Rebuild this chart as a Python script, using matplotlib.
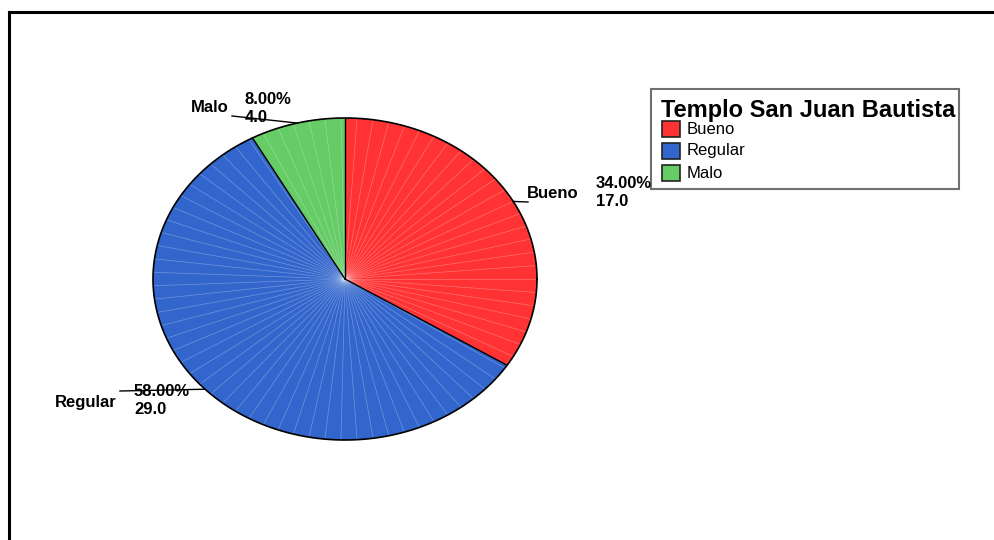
import numpy as np
import matplotlib.pyplot as plt
from matplotlib.patches import Rectangle
from matplotlib.lines import Line2D

categories = ['Bueno', 'Regular', 'Malo']
counts = [17.0, 29.0, 4.0]
percents = [34.00, 58.00, 8.00]
colors = ['#FF3333', '#3366CC', '#66CC66']
legend_title = 'Templo San Juan Bautista'

W, H = 995, 540
fig = plt.figure(figsize=(W / 100, H / 100), dpi=100)
plt.rcParams['font.family'] = ['Liberation Sans', 'DejaVu Sans']


def px(x, y):
    return x / W, 1 - y / H


# frame round the chart (left and top only, as in the original)
fig.add_artist(Line2D([9 / W, 9 / W], [0, 1 - 12 / H], color='black', lw=2.2))
fig.add_artist(Line2D([9 / W, 1], [1 - 12 / H, 1 - 12 / H], color='black', lw=2.2))

# pie axes: stretched so the pie becomes an ellipse
ax = fig.add_axes([153 / W, 100 / H, 384 / W, 322 / H])
wedges, _ = ax.pie(counts, colors=colors, startangle=90, counterclock=False,
                   wedgeprops=dict(edgecolor='none'))
ax.set_aspect('auto')
ax.set_xlim(-1, 1)
ax.set_ylim(-1, 1)
ax.axis('off')

# faint radial lines like the SPSS rendering
for a in np.arange(0, 360, 4.8):
    t = np.radians(a)
    ax.plot([0, np.cos(t)], [0, np.sin(t)], color='white', lw=0.5, alpha=0.3)

# slice borders and outline
bounds = 90 - np.cumsum([0] + counts) / sum(counts) * 360
for b in bounds[:-1]:
    t = np.radians(b)
    ax.plot([0, np.cos(t)], [0, np.sin(t)], color='black', lw=1)
tt = np.linspace(0, 2 * np.pi, 400)
ax.plot(np.cos(tt), np.sin(tt), color='black', lw=1.2, clip_on=False)

# labels with leader lines
ends = [(528, 202), (120, 391), (232, 116)]
name_pos = [(527, 194), (55, 402), (191, 108)]
val_pos = [(596, 184), (134, 392), (245, 100)]
mids = (bounds[:-1] + bounds[1:]) / 2
fs = 12
for i, cat in enumerate(categories):
    t = np.radians(mids[i])
    ex = (ends[i][0] - 345) / 192
    ey = (279 - ends[i][1]) / 161
    ax.plot([np.cos(t), ex], [np.sin(t), ey], color='black', lw=1, clip_on=False)
    fig.text(*px(*name_pos[i]), cat, fontsize=fs, fontweight='bold',
             ha='left', va='center')
    fig.text(*px(*val_pos[i]), f'{percents[i]:.2f}%', fontsize=fs,
             fontweight='bold', ha='left', va='center')
    fig.text(*px(val_pos[i][0], val_pos[i][1] + 18), f'{counts[i]:.1f}',
             fontsize=fs, fontweight='bold', ha='left', va='center')

# legend box
x0, y0 = px(651, 189)
x1, y1 = px(959, 89)
fig.add_artist(Rectangle((x0, y0), x1 - x0, y1 - y0, facecolor='white',
                         edgecolor='#707070', lw=1.5, transform=fig.transFigure))
fig.text(*px(661, 110), legend_title, fontsize=17, fontweight='bold',
         ha='left', va='center')
for i, cat in enumerate(categories):
    yc = 129 + i * 22
    rx, ry = px(662, yc + 8)
    fig.add_artist(Rectangle((rx, ry), 18 / W, 16 / H, facecolor=colors[i],
                             edgecolor='#222222', lw=1.2, transform=fig.transFigure))
    fig.text(*px(687, yc), cat, fontsize=12, ha='left', va='center')

fig.savefig('out.png', dpi=100)
